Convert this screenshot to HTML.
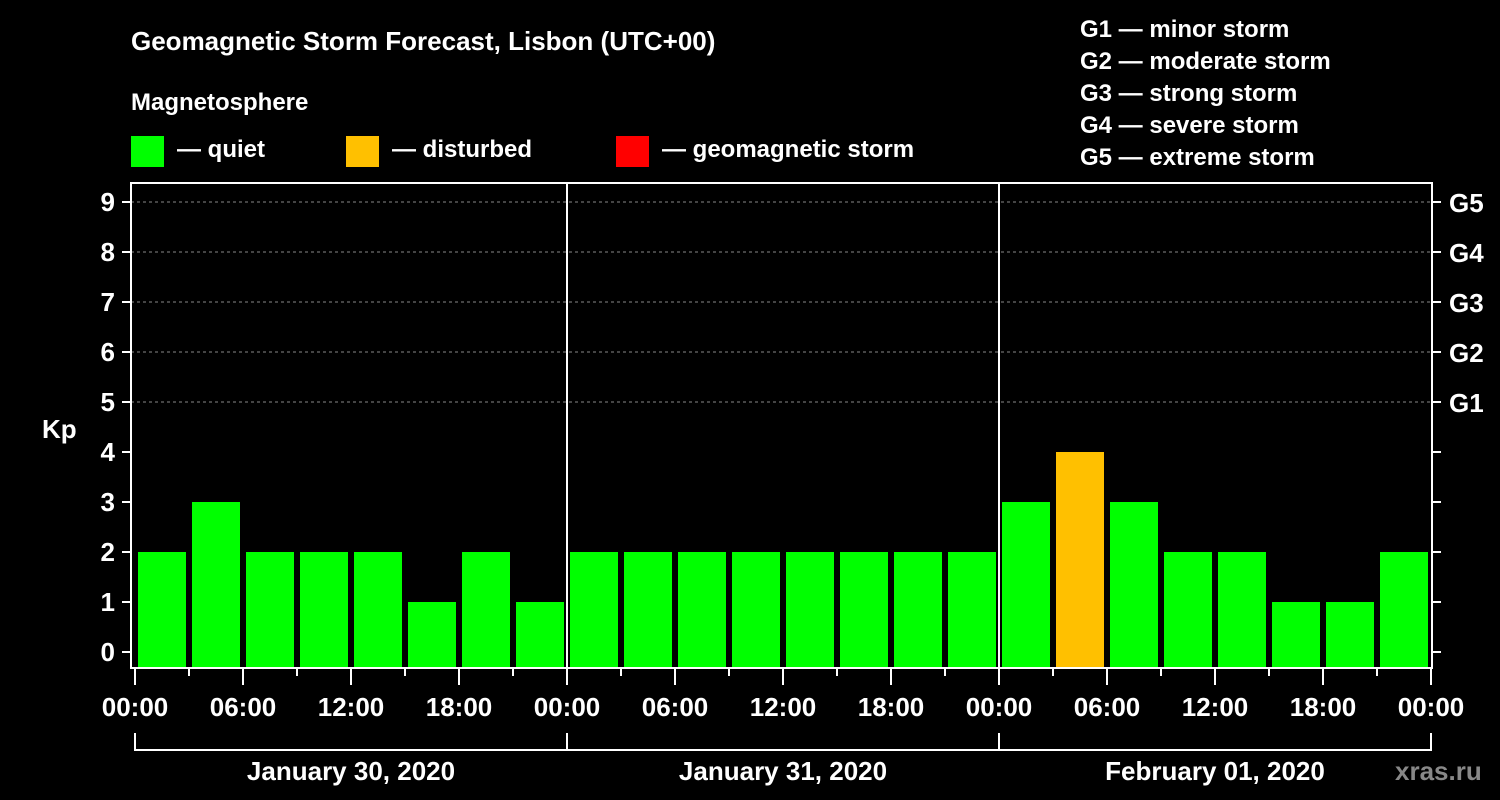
<!DOCTYPE html>
<html><head><meta charset="utf-8"><style>
html,body{margin:0;padding:0;background:#000;}
svg{display:block;font-family:"Liberation Sans",Arial,sans-serif;font-weight:bold;}
</style></head><body>
<svg id="chart" width="1500" height="800" viewBox="0 0 1500 800">
<rect width="1500" height="800" fill="#000"/>
<text x="131" y="50" fill="#fff" font-size="26">Geomagnetic Storm Forecast, Lisbon (UTC+00)</text>
<text x="131" y="110" fill="#fff" font-size="24">Magnetosphere</text>
<g><rect x="131" y="136" width="33" height="31" fill="#00ff00"/><text x="177" y="157" fill="#fff" font-size="24">— quiet</text></g>
<g><rect x="346" y="136" width="33" height="31" fill="#ffc000"/><text x="392" y="157" fill="#fff" font-size="24">— disturbed</text></g>
<g><rect x="616" y="136" width="33" height="31" fill="#ff0000"/><text x="662" y="157" fill="#fff" font-size="24">— geomagnetic storm</text></g>
<g font-size="24" fill="#fff">
<text x="1080" y="37">G1 — minor storm</text><text x="1080" y="69">G2 — moderate storm</text><text x="1080" y="101">G3 — strong storm</text><text x="1080" y="133">G4 — severe storm</text><text x="1080" y="165">G5 — extreme storm</text>
</g>
<text x="42" y="438" fill="#fff" font-size="26">Kp</text>
<g id="grid"></g><g id="bars"></g><g id="axes"></g>
<text x="1395" y="780" fill="#888" font-size="26">xras.ru</text>
</svg>
<script>
const kpValues=[2,3,2,2,2,1,2,1, 2,2,2,2,2,2,2,2, 3,4,3,2,2,1,1,2];
const dayLabels=["January 30, 2020","January 31, 2020","February 01, 2020"];
const yTicks=[0,1,2,3,4,5,6,7,8,9];
const gLabels=["G1","G2","G3","G4","G5"];
const xTickLabels=["00:00","06:00","12:00","18:00"];
const NS="http://www.w3.org/2000/svg";
const X0=135,HOUR=18,Y0=652,UNIT=50,TOP=183,BOT=668,RIGHT=1432;
const xs=h=>X0+h*HOUR, ys=v=>Y0-v*UNIT;
function mk(parent,tag,attrs,text){const e=document.createElementNS(NS,tag);for(const k in attrs)e.setAttribute(k,attrs[k]);if(text!==undefined)e.textContent=text;document.getElementById(parent).appendChild(e);return e;}
yTicks.forEach(v=>{if(v>=5){const g=mk('grid','line',{x1:131,x2:RIGHT,y1:ys(v),y2:ys(v),stroke:'#888','stroke-dasharray':'3,3','stroke-width':1});

}});
kpValues.forEach((v,i)=>{const c=v>=5?'#ff0000':(v>=4?'#ffc000':'#00ff00');
const r=mk('bars','rect',{x:xs(i*3)+3,y:ys(v),width:48,height:BOT-ys(v),fill:c});

});
mk('axes','rect',{x:131,y:TOP,width:RIGHT-131,height:BOT-TOP,fill:'none',stroke:'#fff','stroke-width':2});
[1,2].forEach(d=>{const l=mk('axes','line',{x1:xs(d*24),x2:xs(d*24),y1:TOP,y2:BOT,stroke:'#fff','stroke-width':2});

});
yTicks.forEach(v=>{const y=ys(v);mk('axes','line',{x1:122,x2:131,y1:y,y2:y,stroke:'#fff','stroke-width':2});mk('axes','line',{x1:RIGHT,x2:1441,y1:y,y2:y,stroke:'#fff','stroke-width':2});
const t=mk('axes','text',{x:115,y:y+9,fill:'#fff','font-size':26,'text-anchor':'end'},v);


if(v>=5){const g=mk('axes','text',{x:1449,y:y+10,fill:'#fff','font-size':26},gLabels[v-5]);

}});
for(let h=0;h<=72;h+=3){const major=h%6===0;mk('axes','line',{x1:xs(h),x2:xs(h),y1:BOT,y2:major?685:676,stroke:'#fff','stroke-width':2});
if(major){const t=mk('axes','text',{x:xs(h),y:716,fill:'#fff','font-size':26,'text-anchor':'middle'},xTickLabels[(h/6)%4]);

}}
mk('axes','path',{d:`M${xs(0)} 733V750H${xs(72)}V733M${xs(24)} 733V750M${xs(48)} 733V750`,fill:'none',stroke:'#fff','stroke-width':2});
dayLabels.forEach((d,i)=>{const t=mk('axes','text',{x:xs(i*24+12),y:780,fill:'#fff','font-size':26,'text-anchor':'middle'},d);

});
</script>
</body></html>
